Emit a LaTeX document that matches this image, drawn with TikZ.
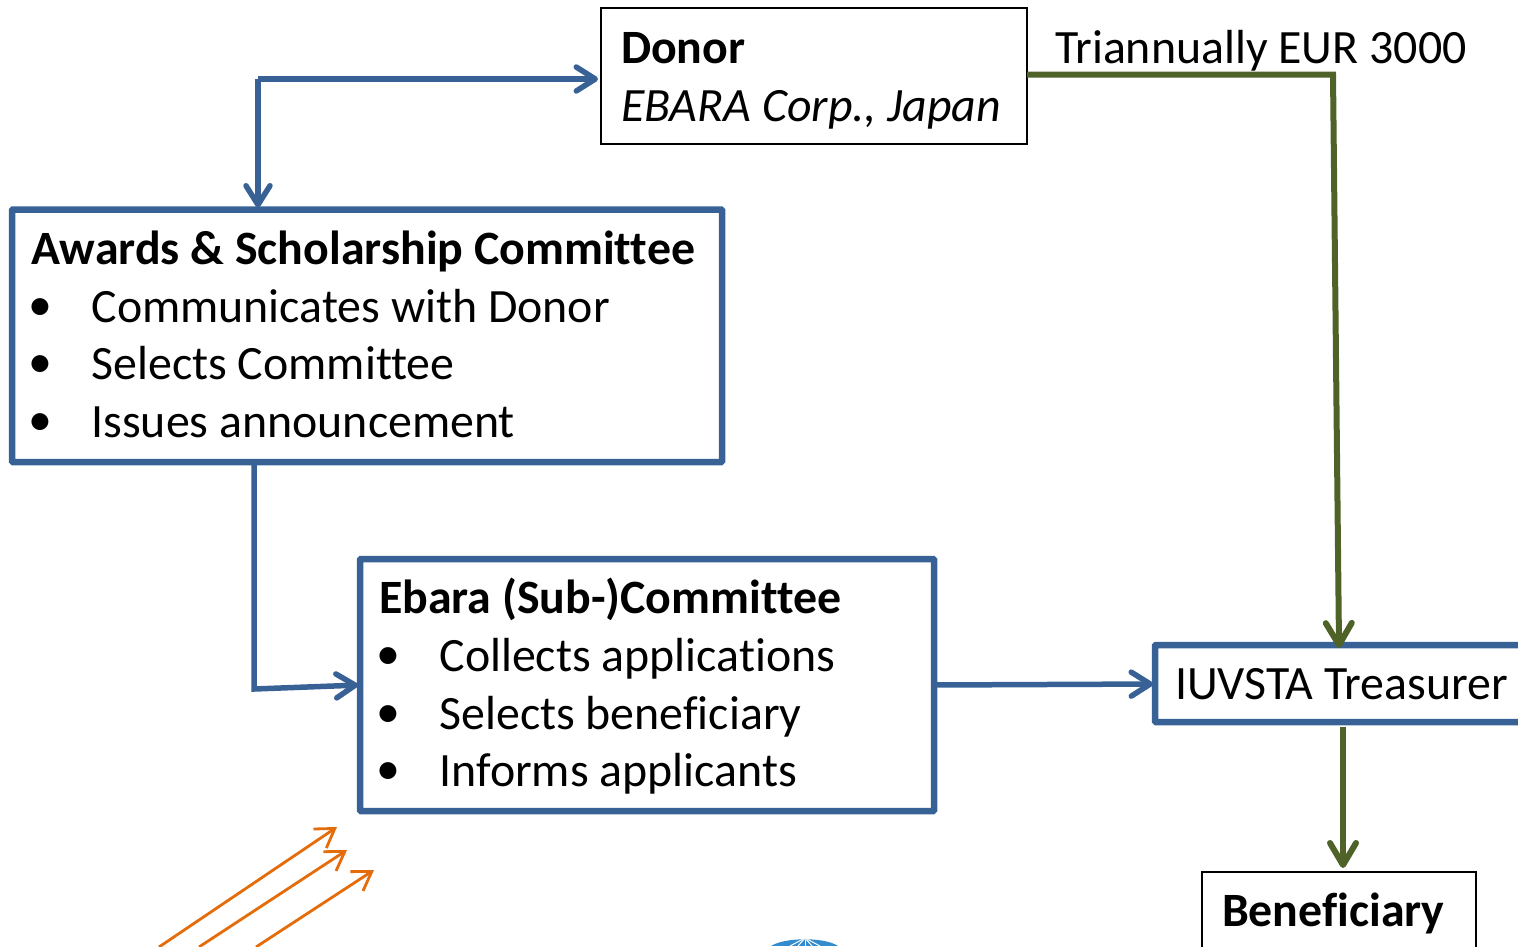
\documentclass[tikz,border=0pt]{standalone}
\usepackage{fontspec}
\setmainfont[Ligatures={NoCommon,NoContextual}]{Carlito}
\usetikzlibrary{arrows.meta,calc}
\definecolor{bluel}{RGB}{56,98,150}
\definecolor{greenl}{RGB}{79,98,40}
\definecolor{orangel}{RGB}{228,108,10}
\definecolor{globeb}{RGB}{50,140,205}
\tikzset{
 x=1pt,y=-1pt,
 thinbox/.style={draw=black,line width=2.4pt,fill=white,inner sep=0pt,outer sep=0pt,anchor=north west},
 thickbox/.style={draw=bluel,line width=6.5pt,fill=white,inner sep=0pt,outer sep=0pt,anchor=north west,rounded corners=1pt},
 txt/.style={anchor=base west,inner sep=0pt,outer sep=0pt,yshift=-0.5pt,font=\fontsize{47.85}{57}\selectfont},
 bluearrow/.style={draw=bluel,line width=5.5pt,-{Straight Barb[length=19pt,width=24pt,round,line width=5.5pt]}},
 greenarrow/.style={draw=greenl,line width=6pt,-{Straight Barb[length=22pt,width=26pt,round,line width=6pt]}},
 orangearrow/.style={draw=orangel,line width=2.8pt,-{Straight Barb[length=18pt,width=23pt,line width=2.8pt]}},
}
\begin{document}
\begin{tikzpicture}
\useasboundingbox (0,0) rectangle (1518,946);
\clip (0,0) rectangle (1518,946);
% boxes
\node[thinbox,minimum width=426pt,minimum height=136pt] (donor) at (601,8) {};
\node[thickbox,minimum width=710pt,minimum height=252.5pt] (awards) at (12,209.5) {};
\node[thickbox,minimum width=574pt,minimum height=252pt] (ebara) at (360,559) {};
\node[thickbox,minimum width=420pt,minimum height=77pt] (treasurer) at (1155,645) {};
\node[thinbox,minimum width=274pt,minimum height=120pt] (benef) at (1202,872) {};
% free end coordinates
\coordinate (j1) at (258,79);
\coordinate (j2) at (254,689);
\coordinate (j3) at (1333,74.5);
\coordinate (j4) at (1339,645);
\coordinate (j5) at (1343,727);
\coordinate (j6) at (1000,684);
\coordinate (o1s) at (159,947); \coordinate (o1e) at (337,827);
\coordinate (o2s) at (199,947); \coordinate (o2e) at (347,850);
\coordinate (o3s) at (256,947); \coordinate (o3e) at (374,870);
% blue connectors
\draw[bluearrow,shorten >=3pt] (j1) -- (j1 -| donor.west);
\draw[bluearrow,shorten >=2pt] (j1) -- (j1 |- awards.north);
\draw[bluearrow,shorten >=2pt] (awards.south -| j2) -- (j2) -- (ebara.west);
\draw[bluearrow,shorten >=2pt] (ebara.east) -- (treasurer.west |- j6);
% green connectors
\draw[greenarrow,shorten >=-3pt] (donor.east |- j3) -- (j3) -- (j4 |- treasurer.north);
\draw[greenarrow,shorten >=4pt] (j5) -- (j5 |- benef.north);
% orange arrows
\draw[orangearrow] (o1s) -- (o1e);
\draw[orangearrow] (o2s) -- (o2e);
\draw[orangearrow] (o3s) -- (o3e);
% globe
\begin{scope}
\clip (771,946) .. controls (785,937) and (825,937) .. (838,946) -- cycle;
\fill[globeb] (765,936) rectangle (845,946);
\foreach \xx in {790,798,805,812,820} \draw[white,line width=1pt] (805,938) -- (\xx,946);
\end{scope}
% texts
\node[txt] (t1) at (621,63) {\textbf{Donor}};
\node[txt] (t2) at (621,121) {\textit{EBARA Corp., Japan}};
\node[txt] (t3) at (1055,63) {Triannually EUR 3000};
\node[txt] (a0) at (31,264) {\textbf{Awards \& Scholarship Committee}};
\node[txt] (a1b) at (28,319.5) {•};
\node[txt] (a1) at (91.5,322) {Communicates with Donor};
\node[txt] (a2b) at (28,376.5) {•};
\node[txt] (a2) at (91.5,379) {Selects Committee};
\node[txt] (a3b) at (28,434.5) {•};
\node[txt] (a3) at (91.5,437) {Issues announcement};
\node[txt] (e0) at (379,613) {\textbf{Ebara (Sub-)Committee}};
\node[txt] (e1b) at (376.5,668.5) {•};
\node[txt] (e1) at (439.5,671) {Collects applications};
\node[txt] (e2b) at (376.5,726.5) {•};
\node[txt] (e2) at (439.5,729) {Selects beneficiary};
\node[txt] (e3b) at (376.5,783.5) {•};
\node[txt] (e3) at (439.5,786) {Informs applicants};
\node[txt] (tr) at (1175,699) {IUVSTA Treasurer};
\node[txt] (bn) at (1222,926) {\textbf{Beneficiary}};
\end{tikzpicture}
\end{document}
